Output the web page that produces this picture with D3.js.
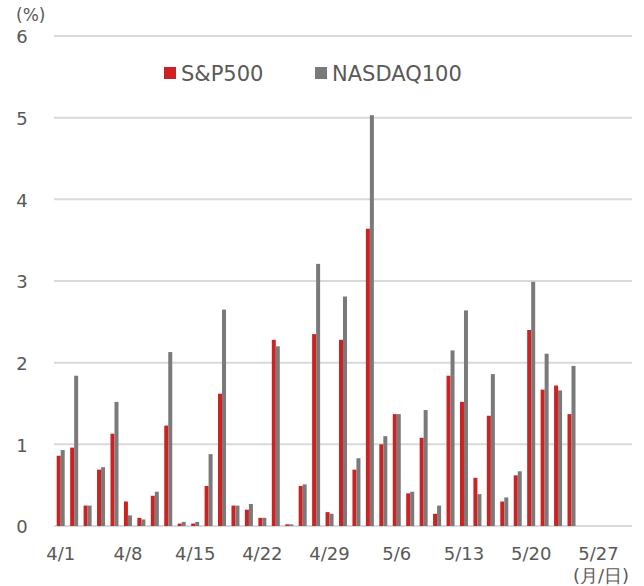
<!DOCTYPE html>
<html>
<head>
<meta charset="utf-8">
<script src="https://cdn.jsdelivr.net/npm/d3@7"></script>
<style>
  body { margin: 0; background: #fff; }
  text { font-family: "DejaVu Sans", Verdana, sans-serif; fill: #595959; }
</style>
</head>
<body>
<script>
// trading days shown on the category axis (last few have no data yet)
var dates = ["4/1","4/2","4/3","4/4","4/5","4/8","4/9","4/10","4/11","4/12",
  "4/15","4/16","4/17","4/18","4/19","4/22","4/23","4/24","4/25","4/26",
  "4/29","4/30","5/1","5/2","5/3","5/6","5/7","5/8","5/9","5/10",
  "5/13","5/14","5/15","5/16","5/17","5/20","5/21","5/22","5/23","5/24",
  "5/27","5/28","5/29"];

// labelled every 5 trading days
var tickLabels = ["4/1","4/8","4/15","4/22","4/29","5/6","5/13","5/20","5/27"];

var seriesNames = ["S&P500", "NASDAQ100"];

var sp500 = [0.86,0.96,0.25,0.69,1.13,0.30,0.10,0.37,1.23,0.03,
  0.03,0.49,1.62,0.25,0.20,0.10,2.28,0.02,0.49,2.35,
  0.17,2.28,0.69,3.64,1.00,1.37,0.40,1.08,0.15,1.84,
  1.52,0.59,1.35,0.30,0.62,2.40,1.67,1.72,1.37];

var nasdaq100 = [0.93,1.84,0.25,0.72,1.52,0.13,0.08,0.42,2.13,0.05,
  0.05,0.88,2.65,0.25,0.27,0.10,2.20,0.02,0.51,3.21,
  0.15,2.81,0.83,5.03,1.10,1.37,0.42,1.42,0.25,2.15,
  2.64,0.39,1.86,0.35,0.67,2.99,2.11,1.66,1.96];

var yTicks = [0, 1, 2, 3, 4, 5, 6];

var svg_width = 644;
var svg_height = 586;

// plot area
var plot_left = 54, plot_right = 632, plot_top = 36, plot_bottom = 526;

var colors = {"S&P500": "#CC2222", "NASDAQ100": "#7A7A7A"};

var xScale = d3.scaleBand()
  .domain(dates)
  .range([plot_left, plot_right])
  .padding(0);

var bw = xScale.bandwidth();
// two thin bars side by side in the middle of each day
var subScale = d3.scaleBand()
  .domain(seriesNames)
  .range([bw / 2 - 4, bw / 2 + 4]);

var yScale = d3.scaleLinear()
  .domain([0, 6])
  .range([plot_bottom, plot_top]);

var svg = d3.select("body").append("svg")
  .attr("width", svg_width)
  .attr("height", svg_height);

// horizontal gridlines
svg.append("g")
  .selectAll("line")
  .data(yTicks)
  .enter()
  .append("line")
  .attr("x1", plot_left)
  .attr("x2", plot_right)
  .attr("y1", d => yScale(d))
  .attr("y2", d => yScale(d))
  .attr("stroke", "#D9D9D9")
  .attr("stroke-width", 2);

// y axis labels
var yaxis = d3.axisLeft(yScale)
  .tickValues(yTicks)
  .tickFormat(d3.format("d"))
  .tickSize(0)
  .tickPadding(0);
var gy = svg.append("g")
  .attr("transform", "translate(" + 22 + ",1)")
  .call(yaxis);
gy.select(".domain").remove();
gy.selectAll("text")
  .attr("text-anchor", "middle")
  .attr("font-size", 18)
  .style("font-family", "DejaVu Sans, sans-serif")
  .attr("fill", "#595959");

// x axis labels
var xaxis = d3.axisBottom(xScale).tickValues(tickLabels).tickSize(0).tickPadding(0);
var gx = svg.append("g")
  .attr("transform", "translate(0," + 547 + ")")
  .call(xaxis);
gx.select(".domain").remove();
gx.selectAll("text")
  .attr("font-size", 18)
  .style("font-family", "DejaVu Sans, sans-serif")
  .attr("fill", "#595959");

// bars
var table = [];
sp500.forEach(function(v, i) {
  table.push({date: dates[i], name: "S&P500", value: v});
  table.push({date: dates[i], name: "NASDAQ100", value: nasdaq100[i]});
});

svg.append("g")
  .selectAll("rect")
  .data(table)
  .enter()
  .append("rect")
  .attr("x", d => xScale(d.date) + subScale(d.name))
  .attr("width", subScale.bandwidth())
  .attr("y", d => yScale(d.value))
  .attr("height", d => yScale(0) - yScale(d.value))
  .attr("fill", d => colors[d.name]);

// legend
var legendX = [164, 315];
var legend = svg.selectAll(".legend")
  .data(seriesNames)
  .enter()
  .append("g")
  .attr("class", "legend")
  .attr("transform", (d, i) => "translate(" + legendX[i] + ",73)");

legend.append("rect")
  .attr("x", 0)
  .attr("y", -6)
  .attr("width", 12)
  .attr("height", 12)
  .attr("fill", d => colors[d]);

legend.append("text")
  .attr("x", 17)
  .attr("y", 8)
  .attr("font-size", 21)
  .text(d => d);

// unit labels
svg.append("text")
  .attr("x", 16)
  .attr("y", 21)
  .attr("font-size", 17)
  .text("(%)");

svg.append("text")
  .attr("x", 573)
  .attr("y", 582)
  .attr("font-size", 18)
  .text("(月/日)");
</script>
</body>
</html>
